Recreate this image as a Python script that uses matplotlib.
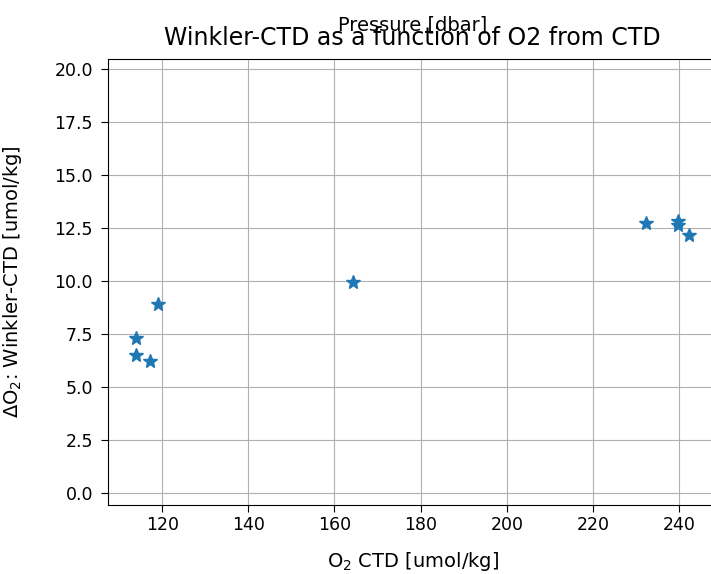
import numpy as np
import matplotlib
matplotlib.use("Agg")
import matplotlib.pyplot as plt

# O2 from CTD vs Winkler-CTD difference
o2_ctd = [119.1, 113.9, 113.9, 117.2, 164.4, 232.4, 239.7, 239.7, 242.4]
delta_o2 = [8.94, 7.34, 6.51, 6.24, 9.98, 12.74, 12.85, 12.66, 12.19]

y_ticks = [0.0, 2.5, 5.0, 7.5, 10.0, 12.5, 15.0, 17.5, 20.0]
x_ticks = [120, 140, 160, 180, 200, 220, 240]

fig = plt.figure(figsize=(7.11, 5.74), dpi=100)
ax = fig.add_axes([0.1523, 0.1202, 0.8562, 0.7770])

ax.plot(o2_ctd, delta_o2, '*', color='#1f77b4', markersize=10)
ax.set_ylim(-0.55, 20.47)
ax.set_yticks(y_ticks)
ax.set_xticks(x_ticks)
ax.tick_params(labelsize=12.5, length=5)
ax.tick_params(axis='y', pad=6)
ax.tick_params(axis='x', pad=3)
ax.grid(True)

ax.set_xlabel('O$_2$ CTD [umol/kg]', fontsize=14)
ax.set_ylabel(r'$\Delta$O$_2$: Winkler-CTD [umol/kg]', fontsize=14)
ax.xaxis.set_label_coords(0.5, -0.1)
ax.yaxis.set_label_coords(-0.138, 0.5)
ax.set_title('Winkler-CTD as a function of O2 from CTD', fontsize=17, pad=10)
ax.text(0.5, 1.065, 'Pressure [dbar]', transform=ax.transAxes,
        ha='center', va='baseline', fontsize=14)

fig.savefig('out.png', dpi=100)
